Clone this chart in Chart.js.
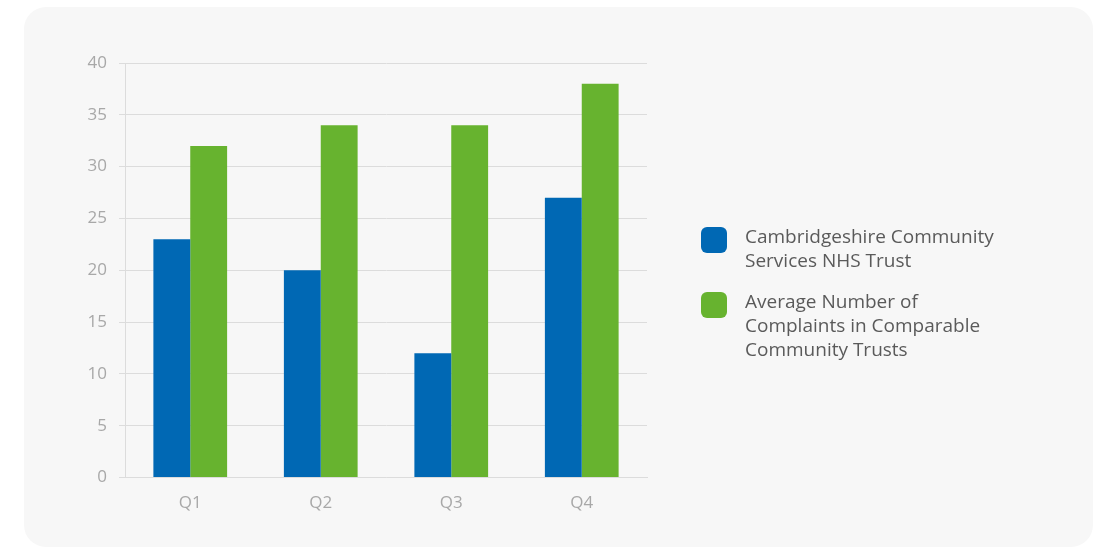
<!DOCTYPE html>
<html>
<head>
<meta charset="utf-8">
<script src="https://cdn.jsdelivr.net/npm/chart.js@4/dist/chart.umd.min.js"></script>
<style>
  body { margin: 0; background: #fff; }
  #panel {
    position: absolute; left: 24px; top: 7px;
    width: 1069px; height: 540px;
    background: #f7f7f7; border-radius: 22px; overflow: hidden;
  }
  #panel canvas { display: block; }
</style>
</head>
<body>
<div id="panel"><canvas id="complaints-chart" width="1069" height="540"></canvas></div>
<script>
const quarters = ['Q1', 'Q2', 'Q3', 'Q4'];
const trustComplaints = [23, 20, 12, 27];
const averageComplaints = [32, 34, 34, 38];
const seriesNames = [
    ['Cambridgeshire Community', 'Services NHS Trust'],
    ['Average Number of', 'Complaints in Comparable', 'Community Trusts'],
];
const seriesColors = ['#0068b4', '#67b32f'];

// legend on the right, with wrapped lines and rounded swatches
const sideLegend = {
    id: 'sideLegend',
    afterDraw(chart) {
        const ctx = chart.ctx;
        const x = chart.chartArea.right + 54;
        let y = 220;
        ctx.save();
        ctx.font = '19px "Open Sans"';
        ctx.textBaseline = 'middle';
        seriesNames.forEach((lines, i) => {
            ctx.fillStyle = seriesColors[i];
            ctx.beginPath();
            ctx.roundRect(x, y, 26, 26, 6);
            ctx.fill();
            ctx.fillStyle = '#5a5a5a';
            lines.forEach((line, j) => {
                ctx.fillText(line, x + 44, y + 11 + j * 24);
            });
            y += 65;
        });
        ctx.restore();
    }
};

new Chart(
    document.getElementById('complaints-chart').getContext('2d'),
    {
        type: 'bar',
        data: {
            labels: quarters,
            datasets: [
                {
                    label: seriesNames[0].join(' '),
                    data: trustComplaints,
                    backgroundColor: seriesColors[0],
                },
                {
                    label: seriesNames[1].join(' '),
                    data: averageComplaints,
                    backgroundColor: seriesColors[1],
                },
            ],
        },
        options: {
            responsive: false,
            animation: false,
            categoryPercentage: 0.565,
            barPercentage: 1,
            layout: {
                padding: { left: 1, right: 446, top: 56, bottom: 19 },
            },
            plugins: {
                legend: { display: false },
                tooltip: { enabled: false },
            },
            scales: {
                x: {
                    grid: { display: false, drawTicks: false },
                    border: { color: '#dcdcdc' },
                    ticks: {
                        color: '#a8a8a8',
                        font: { family: 'Open Sans', size: 17 },
                        padding: 15,
                    },
                },
                y: {
                    min: 0,
                    max: 40,
                    afterFit: s => { s.width = 100; },
                    grid: { color: '#dcdcdc', tickLength: 6 },
                    border: { color: '#dcdcdc' },
                    ticks: {
                        stepSize: 5,
                        color: '#a8a8a8',
                        font: { family: 'Open Sans', size: 17 },
                        padding: 12,
                    },
                },
            },
        },
        plugins: [sideLegend],
    }
);
</script>
</body>
</html>
